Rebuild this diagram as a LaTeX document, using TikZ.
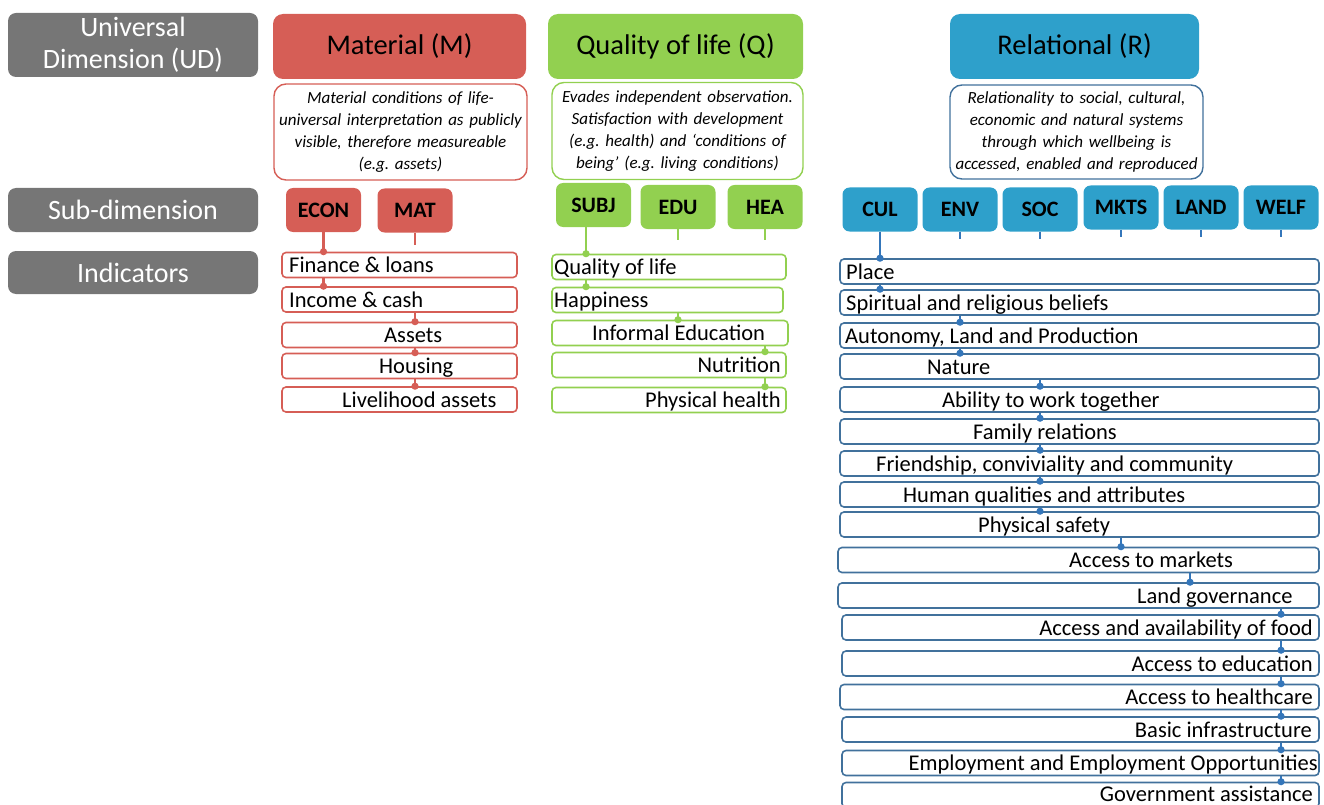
\documentclass[tikz,border=0pt]{standalone}
\usepackage{fontspec}
\setmainfont{Carlito}
\usetikzlibrary{arrows.meta}
\frenchspacing

\definecolor{udgray}{RGB}{118,118,118}
\definecolor{mred}{RGB}{214,94,86}
\definecolor{qgreen}{RGB}{146,208,80}
\definecolor{rblue}{RGB}{46,160,203}
\definecolor{rborder}{RGB}{65,113,156}
\definecolor{rdot}{RGB}{52,118,186}

\tikzset{
	labbox/.style={fill=udgray, text=white, rounded corners=8pt, minimum width=250pt, align=center, font=\fontsize{28}{32}\selectfont},
	headbox/.style={rounded corners=10pt, minimum height=65pt, font=\fontsize{28.5}{32}\selectfont},
	descbox/.style={rounded corners=12pt, line width=1.4pt, fill=white, align=center, inner xsep=4pt, font=\fontsize{17}{22}\selectfont\itshape},
	subbox/.style={rounded corners=7pt, minimum width=75pt, minimum height=44pt, font=\fontsize{22}{26}\selectfont\bfseries},
	indbox/.style={rounded corners=4pt, line width=1.6pt, minimum height=25pt},
	indtxt/.style={inner sep=0pt, anchor=base west, yshift=-7.5pt, font=\fontsize{22.5}{26}\selectfont},
	indtxtr/.style={indtxt, anchor=base east},
	mcon/.style={draw=mred, line width=2.5pt, -{Circle[length=7pt]}, shorten >=-3.5pt},
	qcon/.style={draw=qgreen, line width=2.5pt, -{Circle[length=7pt]}, shorten >=-3.5pt},
	rcon/.style={draw=rdot, line width=2.5pt, -{Circle[length=7pt]}, shorten >=-3.5pt},
}

\begin{document}
\begin{tikzpicture}[x=1pt, y=-1pt]
		%%%%% FRAME %%%%%
		\useasboundingbox (0,0) rectangle (1324,805);
		
		%%%%% LEFT LABELS %%%%%
		\node[labbox, minimum height=64pt] (ud) at (133,45) {Universal\\Dimension (UD)};
		\node[labbox, minimum height=44pt] (subd) at (133,210) {Sub-dimension};
		\node[labbox, minimum height=43pt] (indl) at (133,272.5) {Indicators};
		
		%%%%% MATERIAL %%%%%
		\node[headbox, fill=mred, minimum width=253pt] (matm) at (399.5,46.5) {Material (M)};
		\node[descbox, draw=mred, minimum height=96pt, text width=245pt] (matd) at (400.5,132) {Material conditions of life-\\universal interpretation as publicly\\visible, therefore measureable\\(e.g. assets)};
		
		\node[subbox, fill=mred] (econ) at (323.5,210) {ECON};
		\node[subbox, fill=mred] (mat) at (415,210.5) {MAT};
		
		\node[indbox, draw=mred, minimum width=235pt] (fin) at (399.5,265) {};
		\node[indtxt] (fint) at (289,265) {Finance \& loans};
		\node[indbox, draw=mred, minimum width=235pt] (inc) at (399.5,299.5) {};
		\node[indtxt] (inct) at (289,299.5) {Income \& cash};
		\node[indbox, draw=mred, minimum width=235pt] (ast) at (399.5,335) {};
		\node[indtxt] (astt) at (384,335) {Assets};
		\node[indbox, draw=mred, minimum width=235pt] (hou) at (399.5,366) {};
		\node[indtxt] (hout) at (379,366) {Housing};
		\node[indbox, draw=mred, minimum width=235pt] (liv) at (399.5,399.5) {};
		\node[indtxt] (livt) at (342,399.5) {Livelihood assets};
		
		\draw[mcon] (econ.south) -- (econ.south |- fin.north);
		\draw[mcon] (fin.south -| econ) -- (inc.north -| econ);
		\draw[mcon] (inc.south -| mat) -- (ast.north -| mat);
		\draw[mcon] (ast.south -| mat) -- (hou.north -| mat);
		\draw[mcon] (hou.south -| mat) -- (liv.north -| mat);
		\draw[draw=mred, line width=2.5pt] (mat.south) -- ++(0,12);
		
		%%%%% QUALITY OF LIFE %%%%%
		\node[headbox, fill=qgreen, minimum width=255pt] (qolm) at (675.5,46.5) {Quality of life (Q)};
		\node[descbox, draw=qgreen, minimum height=97pt, text width=243pt] (qold) at (677.5,131) {Evades independent observation.\\Satisfaction with development\\(e.g. health) and ‘conditions of\\being’ (e.g. living conditions)};
		
		\node[subbox, fill=qgreen] (subj) at (593.5,205) {SUBJ};
		\node[subbox, fill=qgreen] (edu) at (678,207) {EDU};
		\node[subbox, fill=qgreen] (hea) at (765,207) {HEA};
		
		\node[indbox, draw=qgreen, minimum width=234pt] (qol) at (669,267) {};
		\node[indtxt] (qolt) at (554,267) {Quality of life};
		\node[indbox, draw=qgreen, minimum width=231pt] (hap) at (667.5,300) {};
		\node[indtxt] (hapt) at (554,300) {Happiness};
		\node[indbox, draw=qgreen, minimum width=236pt] (ined) at (670,333) {};
		\node[indtxt] (inedt) at (592,333) {Informal Education};
		\node[indbox, draw=qgreen, minimum width=234pt] (nut) at (669,365) {};
		\node[indtxtr] (nutt) at (781,365) {Nutrition};
		\node[indbox, draw=qgreen, minimum width=234pt] (phy) at (669,400) {};
		\node[indtxtr] (phyt) at (781,400) {Physical health};
		
		\draw[qcon] (subj.south -| 586,0) -- (qol.north -| 586,0);
		\draw[qcon] (qol.south -| 586,0) -- (hap.north -| 586,0);
		\draw[qcon] (hap.south -| edu) -- (ined.north -| edu);
		\draw[qcon] (ined.south -| hea) -- (nut.north -| hea);
		\draw[qcon] (nut.south -| hea) -- (phy.north -| hea);
		\draw[draw=qgreen, line width=2.5pt] (edu.south) -- ++(0,11);
		\draw[draw=qgreen, line width=2.5pt] (hea.south) -- ++(0,11);
		
		%%%%% RELATIONAL %%%%%
		\node[headbox, fill=rblue, minimum width=249pt] (relm) at (1074.5,46.5) {Relational (R)};
		\node[descbox, draw=rborder, minimum height=94pt, text width=245pt] (reld) at (1076.5,132) {Relationality to social, cultural,\\economic and natural systems\\through which wellbeing is\\accessed, enabled and reproduced};
		
		\node[subbox, fill=rblue] (cul) at (880,209.5) {CUL};
		\node[subbox, fill=rblue] (env) at (960,209.5) {ENV};
		\node[subbox, fill=rblue] (soc) at (1040,209.5) {SOC};
		\node[subbox, fill=rblue] (mkts) at (1121,207.5) {MKTS};
		\node[subbox, fill=rblue] (land) at (1201,207.5) {LAND};
		\node[subbox, fill=rblue] (welf) at (1281,207.5) {WELF};
		
		\node[indbox, draw=rborder, minimum width=479pt] (place) at (1079.5,271.5) {};
		\node[indtxt] (placet) at (846,271.5) {Place};
		\node[indbox, draw=rborder, minimum width=479pt] (spir) at (1079.5,302.5) {};
		\node[indtxt] (spirt) at (846,302.5) {Spiritual and religious beliefs};
		\node[indbox, draw=rborder, minimum width=479pt] (auton) at (1079.5,335.5) {};
		\node[indtxt] (autont) at (845,335.5) {Autonomy, Land and Production};
		\node[indbox, draw=rborder, minimum width=479pt] (natu) at (1079.5,366.5) {};
		\node[indtxt] (natut) at (927,366.5) {Nature};
		\node[indbox, draw=rborder, minimum width=479pt] (abil) at (1079.5,399.5) {};
		\node[indtxt] (abilt) at (942,399.5) {Ability to work together};
		\node[indbox, draw=rborder, minimum width=479pt] (fam) at (1079.5,431.5) {};
		\node[indtxt] (famt) at (973,431.5) {Family relations};
		\node[indbox, draw=rborder, minimum width=479pt] (frnd) at (1079.5,463.5) {};
		\node[indtxt] (frndt) at (876,463.5) {Friendship, conviviality and community};
		\node[indbox, draw=rborder, minimum width=479pt] (hum) at (1079.5,494.5) {};
		\node[indtxt] (humt) at (903,494.5) {Human qualities and attributes};
		\node[indbox, draw=rborder, minimum width=479pt] (safe) at (1079.5,524.5) {};
		\node[indtxt] (safet) at (978,524.5) {Physical safety};
		\node[indbox, draw=rborder, minimum width=481pt] (mkt) at (1078.5,560) {};
		\node[indtxt] (mktt) at (1069,560) {Access to markets};
		\node[indbox, draw=rborder, minimum width=481pt] (lgov) at (1078.5,595.5) {};
		\node[indtxt] (lgovt) at (1137,595.5) {Land governance};
		\node[indbox, draw=rborder, minimum width=477pt] (food) at (1080.5,627.5) {};
		\node[indtxtr] (foodt) at (1313,627.5) {Access and availability of food};
		\node[indbox, draw=rborder, minimum width=477pt] (aedu) at (1080.5,663.5) {};
		\node[indtxtr] (aedut) at (1313,663.5) {Access to education};
		\node[indbox, draw=rborder, minimum width=479pt] (ahlth) at (1079.5,697) {};
		\node[indtxtr] (ahltht) at (1313,697) {Access to healthcare};
		\node[indbox, draw=rborder, minimum width=477pt] (infra) at (1080.5,729.5) {};
		\node[indtxtr] (infrat) at (1312,729.5) {Basic infrastructure};
		\node[indbox, draw=rborder, minimum width=477pt] (empl) at (1080.5,763) {};
		\node[indtxtr] (emplt) at (1318,763) {Employment and Employment Opportunities};
		\node[indbox, draw=rborder, minimum width=477pt] (govt) at (1080.5,795) {};
		\node[indtxtr] (govtt) at (1313,794) {Government assistance};
		
		\draw[rcon] (cul.south) -- (cul.south |- place.north);
		\draw[rcon] (place.south -| cul) -- (spir.north -| cul);
		\draw[rcon] (spir.south -| env) -- (auton.north -| env);
		\draw[rcon] (auton.south -| env) -- (natu.north -| env);
		\draw[rcon] (natu.south -| soc) -- (abil.north -| soc);
		\draw[rcon] (abil.south -| soc) -- (fam.north -| soc);
		\draw[rcon] (fam.south -| soc) -- (frnd.north -| soc);
		\draw[rcon] (frnd.south -| soc) -- (hum.north -| soc);
		\draw[rcon] (hum.south -| soc) -- (safe.north -| soc);
		\draw[rcon] (safe.south -| mkts) -- (mkt.north -| mkts);
		\draw[rcon] (mkt.south -| 1190,0) -- (lgov.north -| 1190,0);
		\draw[rcon] (lgov.south -| welf) -- (food.north -| welf);
		\draw[rcon] (food.south -| welf) -- (aedu.north -| welf);
		\draw[rcon] (aedu.south -| welf) -- (ahlth.north -| welf);
		\draw[rcon] (ahlth.south -| welf) -- (infra.north -| welf);
		\draw[rcon] (infra.south -| welf) -- (empl.north -| welf);
		\draw[rcon] (empl.south -| welf) -- (govt.north -| welf);
		
		\draw[draw=rdot, line width=2.5pt] (env.south) -- ++(0,7);
		\draw[draw=rdot, line width=2.5pt] (soc.south) -- ++(0,7);
		\draw[draw=rdot, line width=2.5pt] (mkts.south) -- ++(0,7);
		\draw[draw=rdot, line width=2.5pt] (land.south) -- ++(0,7);
		\draw[draw=rdot, line width=2.5pt] (welf.south) -- ++(0,7);
		
		%%%%% END %%%%%
	\end{tikzpicture}
\end{document}
